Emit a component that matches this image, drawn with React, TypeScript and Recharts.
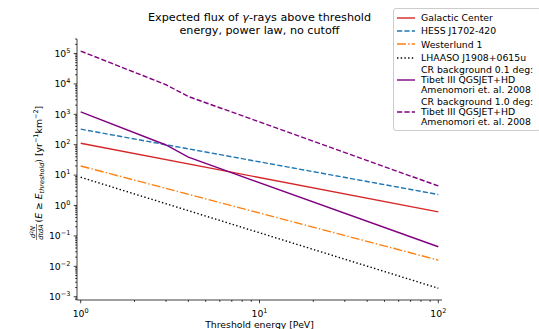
import React from 'react';
import { LineChart, Line, XAxis, YAxis, Legend } from 'recharts';

// Threshold energies (PeV) at which each curve is sampled
const powerLawEnergies = [1, 100];
const crEnergies = [1, 3, 4, 100];

// Integrated flux above threshold [yr^-1 km^-2]
const galacticCenter = [112, 0.62];
const hessJ1702 = [325, 2.3];
const westerlund1 = [20, 0.016];
const lhaasoJ1908 = [8.5, 0.0019];
const crBackground01 = [1200, 98, 39, 0.044];
const crBackground10 = [120000, 9400, 3850, 4.4];

// Legend labels (one string per text line)
const labelGC = ['Galactic Center'];
const labelHESS = ['HESS J1702-420'];
const labelWd1 = ['Westerlund 1'];
const labelLHAASO = ['LHAASO J1908+0615u'];
const labelCR01 = ['CR background 0.1 deg:', 'Tibet III QGSJET+HD', 'Amenomori et. al. 2008'];
const labelCR10 = ['CR background 1.0 deg:', 'Tibet III QGSJET+HD', 'Amenomori et. al. 2008'];

const xMajorTicks = [1, 10, 100];
const yMajorTicks = [1e-3, 1e-2, 1e-1, 1, 10, 100, 1e3, 1e4, 1e5];

const X_DOMAIN: [number, number] = [0.9535, 104.88];
const Y_DOMAIN: [number, number] = [7.8e-4, 3.0e5];

const FONT = 'DejaVu Sans';
const LW = 1.4;

type Series = {
  id: string;
  label: string[];
  energies: number[];
  values: number[];
  color: string;
  dash?: string;
};

const series: Series[] = [
  { id: 'gc', label: labelGC, energies: powerLawEnergies, values: galacticCenter, color: '#d62728' },
  { id: 'hess', label: labelHESS, energies: powerLawEnergies, values: hessJ1702, color: '#1f77b4', dash: '5.2 2.2' },
  { id: 'wd1', label: labelWd1, energies: powerLawEnergies, values: westerlund1, color: '#ff7f0e', dash: '8.9 2.2 1.4 2.2' },
  { id: 'lhaaso', label: labelLHAASO, energies: powerLawEnergies, values: lhaasoJ1908, color: '#000000', dash: '1.4 2.3' },
  { id: 'cr01', label: labelCR01, energies: crEnergies, values: crBackground01, color: '#800080' },
  { id: 'cr10', label: labelCR10, energies: crEnergies, values: crBackground10, color: '#800080', dash: '5.2 2.2' },
];

const toRows = (s: Series) => s.energies.map((e, i) => ({ e, v: s.values[i] }));

// log-axis tick positions: decades plus 2..9 multiples inside the domain
const minorTicks = (lo: number, hi: number) => {
  const out: number[] = [];
  for (let d = Math.floor(Math.log10(lo)); d <= Math.ceil(Math.log10(hi)); d++) {
    for (let m = 1; m <= 9; m++) {
      const v = m * Math.pow(10, d);
      if (v >= lo && v <= hi) out.push(v);
    }
  }
  return out;
};
const xTicks = minorTicks(X_DOMAIN[0], X_DOMAIN[1]);
const yTicks = minorTicks(Y_DOMAIN[0], Y_DOMAIN[1]);

const isDecade = (v: number) => Math.abs(Math.log10(v) - Math.round(Math.log10(v))) < 1e-9;
const expText = (v: number) => {
  const k = Math.round(Math.log10(v));
  return k < 0 ? '\u2212' + Math.abs(k) : String(k);
};

const XTick = (props: any) => {
  const { x, y, payload } = props;
  const v = payload.value;
  const major = isDecade(v);
  return (
    <g>
      <line x1={x} x2={x} y1={y} y2={y + (major ? 3.3 : 1.9)} stroke="#000" strokeWidth={0.75} />
      {major && xMajorTicks.includes(Math.round(v)) && (
        <text x={x} y={y + 16.5} textAnchor="middle" fontSize={9.3} fontFamily={FONT} fill="#000">
          10<tspan dy={-4} fontSize={6.5}>{expText(v)}</tspan>
        </text>
      )}
    </g>
  );
};

const YTick = (props: any) => {
  const { x, y, payload } = props;
  const v = payload.value;
  const major = isDecade(v) && yMajorTicks.some((t) => Math.abs(t - v) / t < 1e-9);
  return (
    <g>
      <line x1={x} x2={x - (major ? 3.3 : 1.9)} y1={y} y2={y} stroke="#000" strokeWidth={0.75} />
      {major && (
        <text x={x - 6.6} y={y + 3.3} textAnchor="end" fontSize={9.3} fontFamily={FONT} fill="#000">
          10<tspan dy={-4} fontSize={6.5}>{expText(v)}</tspan>
        </text>
      )}
    </g>
  );
};

// x-axis label together with the two-line chart title
const XLabelAndTitle = () => (
  <g fontFamily={FONT} fill="#000">
    <text x={259.5} y={20.5} textAnchor="middle" fontSize={11.2}>
      Expected flux of <tspan fontStyle="italic">γ</tspan>-rays above threshold
    </text>
    <text x={259.5} y={34} textAnchor="middle" fontSize={11.2}>
      energy, power law, no cutoff
    </text>
    <text x={259.5} y={327.5} textAnchor="middle" fontSize={9.3}>
      Threshold energy [PeV]
    </text>
  </g>
);

const YLabel = () => (
  <g transform="translate(41.5,172) rotate(-90)" fontFamily={FONT} fill="#000">
    <text x={-60} y={-6.5} fontSize={6.5} fontStyle="italic" textAnchor="middle">
      d<tspan dy={-2.5} fontSize={4.6} fontStyle="normal">2</tspan>
      <tspan dy={2.5}>N</tspan>
    </text>
    <line x1={-68} x2={-52} y1={-5} y2={-5} stroke="#000" strokeWidth={0.5} />
    <text x={-60} y={1} fontSize={6.5} fontStyle="italic" textAnchor="middle">
      dtdA
    </text>
    <text x={-50.5} y={0} fontSize={9.3}>
      <tspan>(</tspan>
      <tspan fontStyle="italic">E</tspan>
      <tspan> ≥ </tspan>
      <tspan fontStyle="italic">E</tspan>
      <tspan fontSize={6.5} fontStyle="italic" dy={2}>threshold</tspan>
      <tspan dy={-2}>) [yr</tspan>
      <tspan fontSize={6.5} dy={-3.5}>−1</tspan>
      <tspan dy={3.5}>km</tspan>
      <tspan fontSize={6.5} dy={-3.5}>−2</tspan>
      <tspan dy={3.5}>]</tspan>
    </text>
  </g>
);

const LegendBox = () => (
  <div
    style={{
      boxSizing: 'border-box',
      width: 148,
      border: '1px solid #cccccc',
      borderRadius: 3,
      background: 'rgba(255,255,255,0.8)',
      padding: '2px 0',
      fontFamily: FONT,
      fontSize: 9.3,
      color: '#000',
    }}
  >
    {series.map((s) => {
      const multi = s.label.length > 1;
      return (
        <div
          key={s.id}
          style={{ display: 'flex', alignItems: 'center', height: multi ? 32 : 13.3 }}
        >
          <svg width={21} height={6} style={{ marginLeft: 1, flex: 'none' }}>
            <line x1={2} x2={20} y1={3} y2={3} stroke={s.color} strokeWidth={LW} strokeDasharray={s.dash} />
          </svg>
          <div style={{ marginLeft: 5, lineHeight: multi ? '9.8px' : '13.3px', whiteSpace: 'nowrap' }}>
            {s.label.map((t, i) => (
              <div key={i}>{t}</div>
            ))}
          </div>
        </div>
      );
    })}
  </div>
);

export default function App() {
  return (
    <div
      style={{ position: 'absolute', left: 0, top: 0, width: 539, height: 329, overflow: 'hidden', background: '#fff' }}
    >
      <LineChart width={539} height={329} margin={{ top: 39, right: 97, bottom: 0, left: 0 }}>
        <XAxis
          dataKey="e"
          type="number"
          scale="log"
          domain={X_DOMAIN}
          allowDataOverflow
          ticks={xTicks}
          interval={0}
          tick={<XTick />}
          tickLine={false}
          tickSize={0}
          tickMargin={0}
          height={29}
          axisLine={{ stroke: '#000', strokeWidth: 0.75 }}
          label={<XLabelAndTitle />}
        />
        <XAxis
          xAxisId="top"
          orientation="top"
          type="number"
          scale="log"
          domain={X_DOMAIN}
          allowDataOverflow
          height={0}
          tick={false}
          tickLine={false}
          axisLine={{ stroke: '#000', strokeWidth: 0.75 }}
        />
        <YAxis
          type="number"
          scale="log"
          domain={Y_DOMAIN}
          allowDataOverflow
          ticks={yTicks}
          interval={0}
          tick={<YTick />}
          tickLine={false}
          tickSize={0}
          tickMargin={0}
          width={77}
          axisLine={{ stroke: '#000', strokeWidth: 0.75 }}
          label={<YLabel />}
        />
        <YAxis
          yAxisId="right"
          orientation="right"
          type="number"
          scale="log"
          domain={Y_DOMAIN}
          allowDataOverflow
          width={0}
          tick={false}
          tickLine={false}
          axisLine={{ stroke: '#000', strokeWidth: 0.75 }}
        />
        {series.map((s) => (
          <Line
            key={s.id}
            data={toRows(s)}
            dataKey="v"
            name={s.label.join(' ')}
            type="linear"
            stroke={s.color}
            strokeWidth={LW}
            strokeDasharray={s.dash}
            dot={false}
            activeDot={false}
            isAnimationActive={false}
          />
        ))}
        <Legend
          layout="horizontal"
          verticalAlign="middle"
          align="center"
          wrapperStyle={{ left: 393, top: 8, width: 148, height: 'auto' }}
          content={<LegendBox />}
        />
      </LineChart>
    </div>
  );
}
